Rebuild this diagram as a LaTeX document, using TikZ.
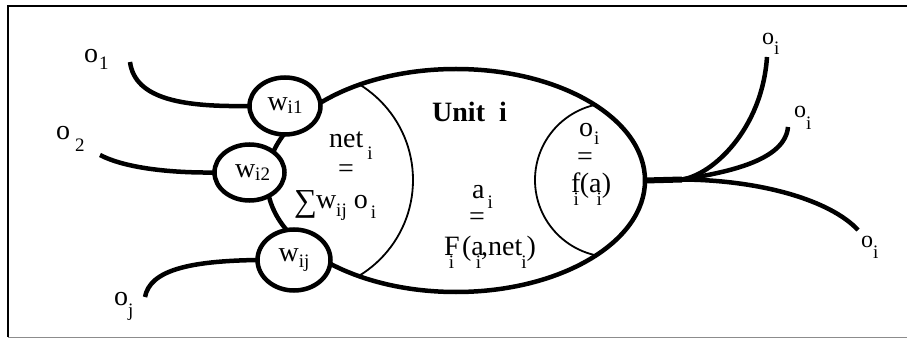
\documentclass[tikz,border=0pt]{standalone}
\usepackage{fontspec}
\setmainfont{Liberation Serif}
\usetikzlibrary{shapes.geometric}
\newcommand{\sbx}[3]{\kern#1\raisebox{#2}{\fontsize{19}{19}\selectfont #3}}
\newcommand{\bigsum}{\raisebox{-3pt}{\fontsize{32}{32}\selectfont ∑}}
\begin{document}
\begin{tikzpicture}[x=1pt,y=-1pt,
  thk/.style={line width=4.5pt},
  thn/.style={line width=1.8pt},
  wnode/.style={ellipse, draw, line width=4.5pt, fill=white, inner sep=0pt, outer sep=0pt, font=\fontsize{28}{30}\selectfont},
  lbl/.style={inner sep=0pt, anchor=base west, font=\fontsize{28}{30}\selectfont},
  rlbl/.style={inner sep=0pt, anchor=base west, font=\fontsize{24}{26}\selectfont},
  eqn/.style={inner sep=0pt, anchor=center, font=\fontsize{28}{30}\selectfont}]
\useasboundingbox (0,0) rectangle (907,339);
% frame
\draw[line width=1.5pt] (907,6) -- (8,6) -- (8,337);
\draw[line width=1pt, black!45] (8,337) -- (907,337);

% unit body
\node[ellipse, draw, thk, minimum width=378pt, minimum height=223pt, inner sep=0pt, outer sep=0pt] (unit) at (456,180.5) {};
\begin{scope}
  \clip (456,180.5) ellipse [x radius=189pt, y radius=111.5pt];
  \draw[thn] (301,180) circle [radius=112pt];
  \draw[thn] (612,180) circle [radius=77pt];
\end{scope}

% weight nodes
\node[wnode, minimum width=71pt, minimum height=57pt] (w1) at (285,106) {w\sbx{0pt}{-3pt}{i1}};
\node[wnode, minimum width=70pt, minimum height=56pt] (w2) at (249.5,172.5) {\hspace{6pt}w\sbx{0pt}{-3pt}{i2}};
\node[wnode, minimum width=73pt, minimum height=61pt] (wj) at (294,260) {w\sbx{0pt}{-6pt}{ij}};

% inputs
\coordinate (s1) at (130,62);
\coordinate (s2) at (100,155);
\coordinate (sj) at (145,297);
\draw[thk] (s1) .. controls (135,100) and (185,107) .. (w1.west);
\draw[thk] (s2) .. controls (125,168) and (170,173) .. (w2.west);
\draw[thk] (sj) .. controls (150,270) and (190,261) .. (wj.west);

\node[lbl] (o1) at (84,63) {o\sbx{1pt}{-7pt}{1}};
\node[lbl] (o2) at (56,140) {o\sbx{5pt}{-12pt}{2}};
\node[lbl] (oj) at (114,305) {o\sbx{0pt}{-11pt}{j}};

% fan-out
\coordinate (fj) at (682,179.5);
\coordinate (t1) at (767,57);
\coordinate (t2) at (788,127);
\coordinate (t3) at (858,230);
\draw[line width=6pt] (unit.east) -- (fj);
\draw[thk] (fj) .. controls (712,175) and (762,130) .. (t1);
\draw[thk] (fj) .. controls (730,172) and (785,160) .. (t2);
\draw[thk] (fj) .. controls (760,180) and (830,200) .. (t3);

\node[rlbl] (r1) at (762,45) {o\sbx{0pt}{-10pt}{i}};
\node[rlbl] (r2) at (794,118) {o\sbx{0pt}{-12pt}{i}};
\node[rlbl] (r3) at (861,247) {o\sbx{0pt}{-11pt}{i}};

% texts inside the unit
\node[lbl, font=\fontsize{28}{30}\selectfont\bfseries] (title) at (432,122) {Unit\hspace{0.5em}i};

\node[lbl] (net) at (329,148) {net\sbx{4pt}{-12pt}{i}};
\node[eqn] (eq1) at (346,171) {=};
\node[lbl] (sum) at (294,208) {\bigsum\kern-1pt w\sbx{0pt}{-8pt}{ij}\kern7pt o\sbx{3pt}{-10pt}{i}};

\node[lbl] (ai) at (472,198) {a\sbx{3pt}{-10pt}{i}};
\node[eqn] (eq2) at (477,219) {=};
\node[lbl] (Fi) at (444,255) {F\sbx{-11pt}{-13pt}{i}\kern8pt(a\sbx{-8pt}{-13pt}{i}\kern0pt,net\sbx{-1pt}{-13pt}{i})};

\node[lbl] (oi) at (579,137) {o\sbx{1pt}{-8pt}{i}};
\node[eqn] (eq3) at (585,159) {=};
\node[lbl] (fi) at (571,193) {f\sbx{-7pt}{-13pt}{i}\kern1pt(a\sbx{-5pt}{-13pt}{i}\kern0pt)};
\end{tikzpicture}
\end{document}
